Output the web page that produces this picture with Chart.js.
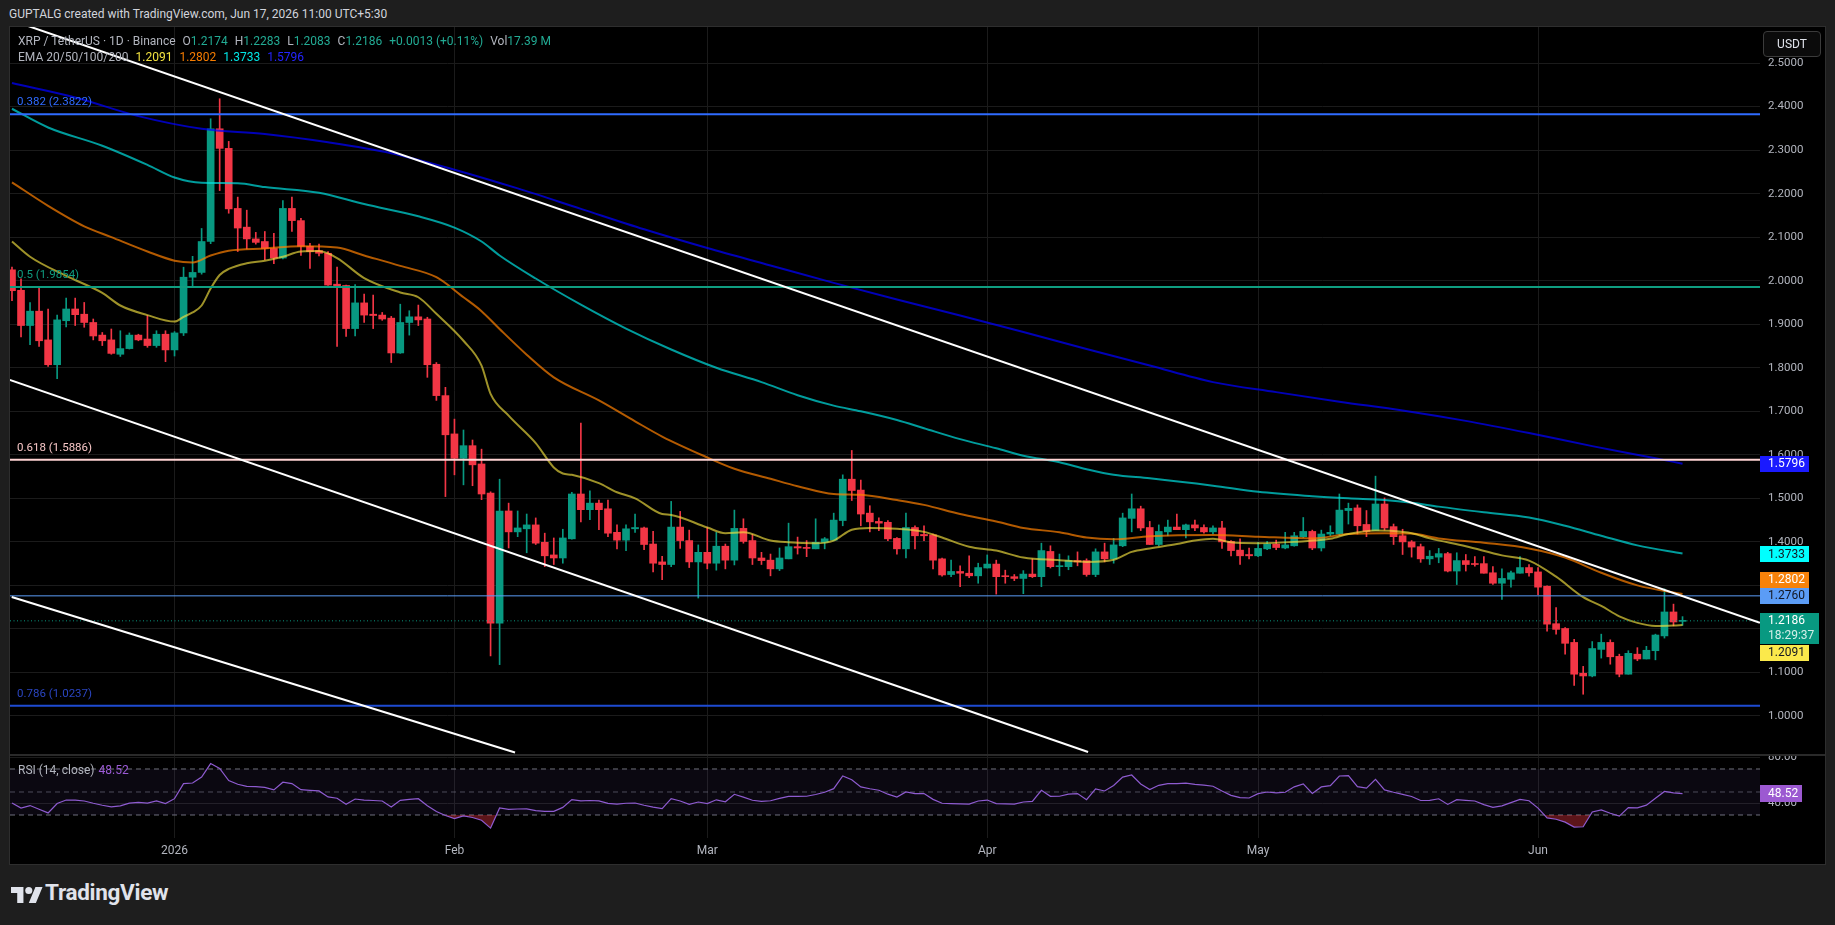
<!DOCTYPE html>
<html>
<head>
<meta charset="utf-8">
<title>XRP / TetherUS 1D</title>
<script src="https://cdn.jsdelivr.net/npm/chart.js@4.4.1/dist/chart.umd.min.js"></script>
<style>
  html, body { margin:0; padding:0; width:1835px; height:925px; overflow:hidden; background:#1e1e1e; font-family: Roboto, "Liberation Sans", sans-serif; }
  .abs { position:absolute; }
  #header { left:9px; top:7px; font-size:12px; color:#d1d4dc; white-space:nowrap; }
  #frame { left:10px; top:27px; width:1815px; height:837px; background:#000; }
  #frameBorder { left:9px; top:26px; width:1815px; height:837px; border:1px solid #2e2e2e; }
  #mainCanvas { left:10px; top:27px; }
  #rsiCanvas { left:10px; top:754px; }
  #sep { left:10px; top:754px; width:1815px; height:2px; background:#2a2a2a; }
  .legend { font-size:12px; color:#b2b5be; white-space:nowrap; }
  .legend span { margin-left:7px; }
  .legend span.v { margin-left:0; }
  #usdt { left:1763px; top:31px; width:56px; height:24px; border:1px solid #3b3b3b; border-radius:4px; background:#0b0b0b; color:#e0e3eb; font-size:12px; line-height:24px; text-align:center; }
  #logo { left:11px; top:883px; }
  #brand { left:45px; top:879px; font-size:22.5px; font-weight:bold; color:#e0e3eb; letter-spacing:-0.3px; }
</style>
</head>
<body>
<div id="header" class="abs">GUPTALG created with TradingView.com, Jun 17, 2026 11:00 UTC+5:30</div>
<div id="frame" class="abs"></div>
<canvas id="mainCanvas" class="abs" width="1815" height="727" style="width:1815px;height:727px"></canvas>
<canvas id="rsiCanvas" class="abs" width="1815" height="110" style="width:1815px;height:110px"></canvas>
<div id="sep" class="abs"></div>
<div id="frameBorder" class="abs"></div>

<div class="abs legend" style="left:18px;top:34px">XRP / TetherUS · 1D · Binance<span>O<span class="v" style="color:#22ab94">1.2174</span></span><span>H<span class="v" style="color:#22ab94">1.2283</span></span><span>L<span class="v" style="color:#22ab94">1.2083</span></span><span>C<span class="v" style="color:#22ab94">1.2186</span></span><span style="color:#22ab94">+0.0013 (+0.11%)</span><span>Vol<span class="v" style="color:#22ab94">17.39 M</span></span></div>
<div class="abs legend" style="left:18px;top:50px">EMA 20/50/100/200<span style="color:#f2e13f">1.2091</span><span style="color:#f57c00">1.2802</span><span style="color:#00e6e6">1.3733</span><span style="color:#2424ff">1.5796</span></div>
<div class="abs legend" style="left:18px;top:763px">RSI (14, close)<span style="color:#9c5bd6;margin-left:4px">48.52</span></div>
<div id="usdt" class="abs">USDT</div>

<svg id="logo" class="abs" width="32" height="22" viewBox="0 0 36 24">
  <path fill="#e0e3eb" d="M14 22H7V11H0V4h14v18zM28 22h-8l7.5-18h8L28 22z"/>
  <circle fill="#e0e3eb" cx="20" cy="8" r="4"/>
</svg>
<div id="brand" class="abs">TradingView</div>

<script>
// day index: 0 = Jan 1 2026, first candle Dec 14 2025
const firstDay = -18;

const open = [
  2.025,1.978,1.897,1.930,1.864,1.807,1.908,1.935,1.923,1.904,1.875,1.864,1.831,1.844,1.875,1.866,1.851,1.877,
  1.841,1.880,2.008,2.019,2.090,2.349,2.304,2.166,2.123,2.096,
  2.090,2.074,2.052,2.166,2.138,2.079,2.069,2.063,1.992,1.989,
  1.890,1.949,1.923,1.921,1.914,1.834,1.904,1.917,1.912,1.808,1.736,
  1.648,1.592,1.621,1.579,1.512,1.213,1.471,1.423,1.430,1.439,
  1.399,1.370,1.363,1.407,1.510,1.474,1.489,1.476,1.422,1.404,
  1.430,1.432,1.395,1.354,1.348,1.434,1.403,1.354,
  1.376,1.351,1.390,1.358,1.431,1.403,1.363,1.358,1.338,1.361,
  1.389,1.387,1.384,1.399,1.404,1.449,1.544,1.519,1.466,1.447,
  1.445,1.408,1.384,1.433,1.417,1.416,1.361,1.325,1.332,1.328,1.322,
  1.340,1.349,1.322,1.320,1.316,1.326,1.320,1.378,1.343,1.343,
  1.357,1.357,1.325,1.377,1.361,1.391,1.454,1.476,1.433,1.394,
  1.423,1.434,1.428,1.439,1.433,1.423,1.432,1.401,1.381,1.371,
  1.368,1.384,1.395,1.386,1.391,1.412,1.424,1.386,1.418,1.418,
  1.472,1.478,1.440,1.426,1.487,1.435,1.414,1.400,1.389,1.361,
  1.365,1.373,1.333,1.357,1.350,1.350,1.329,1.305,1.314,1.328,1.341,
  1.331,1.298,1.212,1.201,1.169,1.098,1.092,1.153,1.169,1.137,
  1.096,1.142,1.131,1.150,1.184,1.239,1.2174
];
const high = [
  2.031,2.004,1.950,1.986,1.935,1.921,1.960,1.960,1.950,1.912,1.881,1.889,1.885,1.880,1.877,1.920,1.885,1.885,
  1.883,2.031,2.056,2.120,2.372,2.418,2.320,2.192,2.162,2.111,
  2.113,2.109,2.184,2.192,2.143,2.086,2.084,2.067,2.031,1.990,
  1.991,1.969,1.967,1.927,1.918,1.946,1.931,1.944,1.916,1.812,1.755,
  1.682,1.657,1.634,1.613,1.515,1.544,1.489,1.471,1.464,1.455,
  1.420,1.409,1.429,1.514,1.673,1.517,1.496,1.496,1.439,1.439,
  1.464,1.434,1.424,1.367,1.493,1.470,1.427,1.393,
  1.433,1.422,1.395,1.473,1.453,1.417,1.376,1.372,1.386,1.443,
  1.411,1.403,1.453,1.410,1.466,1.554,1.610,1.542,1.483,1.455,
  1.449,1.410,1.466,1.437,1.437,1.418,1.363,1.358,1.345,1.368,1.351,
  1.370,1.358,1.335,1.325,1.334,1.361,1.397,1.391,1.372,1.368,
  1.377,1.361,1.384,1.397,1.408,1.466,1.510,1.482,1.447,1.439,
  1.450,1.464,1.441,1.450,1.439,1.437,1.447,1.403,1.407,1.386,
  1.399,1.401,1.404,1.422,1.422,1.456,1.427,1.427,1.437,1.510,
  1.489,1.485,1.472,1.551,1.501,1.441,1.429,1.403,1.395,1.380,
  1.385,1.376,1.375,1.371,1.366,1.366,1.343,1.338,1.333,1.366,1.348,
  1.341,1.299,1.249,1.203,1.176,1.114,1.171,1.188,1.175,1.142,
  1.150,1.157,1.160,1.188,1.292,1.257,1.2283
];
const low = [
  1.954,1.871,1.853,1.849,1.803,1.775,1.894,1.897,1.893,1.864,1.851,1.831,1.826,1.843,1.862,1.847,1.847,1.814,
  1.827,1.874,1.988,2.015,2.085,2.207,2.155,2.067,2.073,2.084,
  2.048,2.039,2.050,2.113,2.058,2.028,2.057,1.989,1.849,1.872,
  1.873,1.904,1.890,1.909,1.812,1.833,1.875,1.897,1.778,1.725,1.504,
  1.554,1.531,1.529,1.497,1.138,1.118,1.386,1.412,1.375,1.394,
  1.343,1.348,1.351,1.406,1.446,1.451,1.428,1.412,1.384,1.380,
  1.422,1.382,1.331,1.313,1.343,1.385,1.341,1.271,
  1.338,1.335,1.338,1.347,1.397,1.348,1.348,1.322,1.334,1.361,
  1.372,1.366,1.384,1.384,1.403,1.437,1.495,1.437,1.423,1.426,
  1.403,1.372,1.363,1.384,1.403,1.338,1.321,1.320,1.297,1.318,1.305,
  1.340,1.280,1.305,1.311,1.281,1.318,1.297,1.340,1.322,1.336,
  1.345,1.321,1.320,1.354,1.351,1.389,1.423,1.426,1.394,1.391,
  1.414,1.428,1.409,1.426,1.420,1.418,1.385,1.368,1.348,1.361,
  1.366,1.382,1.382,1.384,1.390,1.410,1.382,1.379,1.414,1.414,
  1.441,1.418,1.412,1.426,1.427,1.394,1.371,1.365,1.353,1.348,
  1.352,1.331,1.302,1.333,1.344,1.328,1.302,1.268,1.296,1.328,1.321,
  1.279,1.195,1.188,1.142,1.070,1.050,1.090,1.133,1.119,1.090,
  1.096,1.127,1.131,1.129,1.179,1.207,1.2083
];
const close = [
  1.977,1.897,1.930,1.862,1.807,1.910,1.935,1.922,1.904,1.873,1.862,1.833,1.844,1.875,1.864,1.851,1.877,1.841,
  1.880,2.008,2.019,2.090,2.349,2.304,2.165,2.121,2.096,2.088,
  2.074,2.052,2.166,2.138,2.079,2.067,2.063,1.990,1.987,1.890,
  1.949,1.921,1.920,1.912,1.834,1.904,1.917,1.910,1.807,1.736,1.646,
  1.592,1.621,1.577,1.510,1.213,1.471,1.423,1.432,1.439,1.397,
  1.368,1.363,1.409,1.510,1.474,1.489,1.474,1.420,1.404,1.430,
  1.433,1.394,1.351,1.348,1.434,1.403,1.354,1.376,
  1.351,1.390,1.358,1.431,1.401,1.363,1.357,1.338,1.363,1.389,
  1.386,1.385,1.399,1.407,1.450,1.544,1.518,1.464,1.446,1.443,
  1.407,1.384,1.433,1.414,1.414,1.358,1.324,1.332,1.328,1.322,1.341,
  1.349,1.320,1.320,1.316,1.326,1.320,1.380,1.343,1.345,1.357,
  1.354,1.325,1.377,1.361,1.393,1.455,1.476,1.432,1.394,1.424,
  1.434,1.428,1.439,1.432,1.423,1.432,1.400,1.380,1.368,1.368,
  1.385,1.395,1.387,1.393,1.414,1.424,1.386,1.418,1.422,1.473,
  1.477,1.437,1.424,1.487,1.432,1.412,1.400,1.388,1.361,1.367,
  1.373,1.333,1.357,1.348,1.348,1.328,1.305,1.316,1.329,1.341,1.329,
  1.296,1.211,1.199,1.167,1.096,1.092,1.155,1.169,1.136,1.096,
  1.144,1.131,1.151,1.186,1.239,1.216,1.2186
];
const rsi = [
  40.4,36,38.2,35,31.8,40,43,43,42.2,40.2,38.5,37.1,38,40.3,41,40.4,42.3,39.9,
  44.2,57.3,57.8,63,74.7,70.5,60,56.7,54.9,54.6,
  54,51.8,58.5,57.3,52,51.4,50.9,45.7,44.6,39.3,
  43.9,43,42.6,42.2,37,42.8,43.6,44.2,38,33,29.6,
  26.9,29.2,27.8,25.4,18.6,36.1,34.9,35.2,35.4,33.8,
  33.2,33.2,36.6,43.4,42.3,42.6,42.3,40.1,39.5,40.2,
  40.4,38.5,36.8,35.6,44.2,42.2,39.3,41.3,
  39.9,43.2,41.5,48,45.5,42.8,41.9,42.4,44.5,46.2,
  46.2,46.3,47.8,49.8,52.9,63.9,60.7,54.4,52.8,51.5,
  48.1,45.6,50,48.6,48.6,43.6,40.2,39.9,39.6,39.4,42.2,
  43,39.9,39.6,39.4,41.3,41.8,51.5,46.2,46.3,48.2,
  48.6,43.3,52.7,50.9,55.6,63,64.8,57,52.1,55.8,
  57.3,57.3,57.7,56.7,55.9,55,50.9,47.1,45.1,44.8,
  48.6,50,49.3,49.8,54.5,57.1,48.8,54.4,55.5,63.9,
  64.3,54.7,53.4,61,51.8,49.8,48,46.1,42.6,42.7,
  44.1,39.2,43.3,42.8,42.2,39,36.6,38,40.8,43.6,42.4,
  36,27.5,26.3,23.8,19.5,19.8,32.6,34.5,31.5,29,
  36.4,36.2,38.6,44.5,50.5,49.3,48.52
];

// EMA readings (day index, value)
const ema20Days = [-18,-16,-12,-8,-6,-3,0,1,2,3,4,5,6,8,10,12,14,16,18,21,25,27,29,32,34,35,37,40,42,43,44,47,49,51,54,55,59,61,63,66,68,71,73,75,77,80,83,85,88,91,94,98,101,104,106,108,111,113,115,117,120,124,128,130,133,135,137,139,143,147,150,153,156,158,160,162,164,166,167];
const ema20 = [2.090,2.055,2.011,1.972,1.943,1.921,1.906,1.917,1.927,1.943,1.982,2.013,2.027,2.040,2.046,2.055,2.067,2.068,2.052,2.006,1.973,1.962,1.924,1.862,1.805,1.740,1.690,1.627,1.571,1.557,1.554,1.535,1.514,1.500,1.464,1.462,1.433,1.420,1.422,1.403,1.399,1.397,1.403,1.428,1.432,1.430,1.423,1.410,1.389,1.380,1.364,1.358,1.354,1.359,1.377,1.385,1.395,1.403,1.407,1.399,1.397,1.400,1.407,1.418,1.426,1.425,1.420,1.408,1.390,1.369,1.357,1.320,1.273,1.253,1.229,1.214,1.207,1.208,1.2091];
const ema50Days = [-18,-14,-10,-7,-3,0,2,4,6,10,14,18,21,25,29,32,34,36,39,42,47,51,54,59,62,66,69,73,76,80,83,87,91,94,98,101,104,108,115,120,126,130,134,137,140,145,150,154,158,162,167];
const ema50 = [2.226,2.172,2.125,2.100,2.067,2.046,2.042,2.058,2.069,2.074,2.079,2.076,2.058,2.034,2.008,1.962,1.930,1.889,1.830,1.778,1.725,1.677,1.642,1.594,1.568,1.545,1.528,1.510,1.508,1.496,1.485,1.464,1.447,1.432,1.422,1.410,1.406,1.413,1.416,1.412,1.408,1.418,1.420,1.419,1.408,1.398,1.385,1.364,1.329,1.300,1.2802];
const ema100Days = [-18,-14,-8,-3,0,3,7,10,16,21,27,31,34,36,40,45,50,55,60,65,69,73,76,80,83,87,91,94,98,101,104,108,115,120,126,130,134,137,140,145,150,154,158,162,167];
const ema100 = [2.395,2.352,2.310,2.266,2.237,2.225,2.224,2.215,2.202,2.176,2.148,2.122,2.090,2.058,2.005,1.945,1.890,1.842,1.800,1.767,1.737,1.713,1.700,1.680,1.661,1.636,1.615,1.598,1.583,1.567,1.554,1.546,1.529,1.515,1.505,1.500,1.496,1.490,1.481,1.468,1.456,1.437,1.414,1.392,1.3733];
const ema200Days = [-18,-11,-4,3,10,17,24,31,38,45,52,59,66,73,80,87,94,101,108,115,122,129,136,143,150,157,164,167];
const ema200 = [2.454,2.421,2.378,2.349,2.337,2.318,2.293,2.255,2.212,2.165,2.118,2.075,2.035,1.995,1.957,1.920,1.882,1.843,1.805,1.767,1.744,1.722,1.702,1.678,1.650,1.620,1.592,1.5796];

// drawings
const fibRatios = ['0.382', '0.5', '0.618', '0.786'];
const fibLevels = [2.3822, 1.9854, 1.5886, 1.0237];
const keyLevel = 1.2760;
const trend1Days = [-18.22, 175.57], trend1Prices = [2.5994, 1.2143];
const trend2Days = [-18.24, 101.17], trend2Prices = [1.7719, 0.9173];
const trend3Days = [-18.03, 37.71], trend3Prices = [1.2734, 0.9161];

// axes
const priceTicks = [1.0,1.1,1.2,1.3,1.4,1.5,1.6,1.7,1.8,1.9,2.0,2.1,2.2,2.3,2.4,2.5];
const rsiTicks = [40, 80];
const rsiBands = [70, 50, 30];
const monthDays = [0, 31, 59, 90, 120, 151];
const monthLabels = ['2026', 'Feb', 'Mar', 'Apr', 'May', 'Jun'];

// right-axis tags
const tagValues = [1.5796, 1.3733, 1.2802, 1.2760, 1.2091];
const lastPrice = 1.2186;
const countdown = '18:29:37';

// ---- view / style ----
const xMin = -18.22, xMax = 175.58;
const yMin = 0.9127, yMax = 2.5828;
const rsiMin = 10, rsiMax = 83.04;
const UP = '#089981', DOWN = '#f23645';
const GRID = '#1b1b1b';
const AXIS_TEXT = '#b2b5be';
const FONT = 'Roboto, "Liberation Sans", sans-serif';
const fibLineColors = ['#2f6bff', '#0f9d80', '#ffd3d3', '#1e4bd2'];
const fibTextColors = ['#2f6bff', '#0f9d80', '#f7c6c6', '#2a45c0'];
const tagBg = ['#1a1aff', '#00ffff', '#f7820a', '#5b9cf6', '#fbe94b'];
const tagFg = ['#ffffff', '#131722', '#ffffff', '#131722', '#131722'];
const tagShift = [0, 1, -14.5, 0, 28];

Chart.defaults.font.family = FONT;

const days = open.map((_, i) => firstDay + i);
const candleColors = open.map((o, i) => close[i] >= o ? UP : DOWN);

function pts(xs, ys) { return xs.map((x, i) => ({ x: x, y: ys[i] })); }
function flatLine(v) { return [{ x: xMin, y: v }, { x: xMax, y: v }]; }

function lineSet(data, color, width, extra) {
  return Object.assign({
    type: 'line', data: data, borderColor: color, borderWidth: width,
    pointRadius: 0, fill: false, tension: 0
  }, extra || {});
}

const mainDatasets = [
  {
    type: 'bar', order: 20, grouped: false, barThickness: 1,
    data: days.map((d, i) => ({ x: d, y: [low[i], high[i]] })),
    backgroundColor: candleColors
  },
  {
    type: 'bar', order: 19, grouped: false, barThickness: 7, minBarLength: 1,
    data: days.map((d, i) => ({ x: d, y: [open[i], close[i]] })),
    backgroundColor: candleColors
  },
  lineSet(pts(ema200Days, ema200), 'rgba(0,0,255,0.72)', 2, { order: 8, cubicInterpolationMode: 'monotone' }),
  lineSet(pts(ema100Days, ema100), 'rgba(0,230,230,0.68)', 2, { order: 7, cubicInterpolationMode: 'monotone' }),
  lineSet(pts(ema50Days, ema50), 'rgba(255,128,0,0.70)', 2, { order: 6, cubicInterpolationMode: 'monotone' }),
  lineSet(pts(ema20Days, ema20), 'rgba(242,225,63,0.65)', 2, { order: 5, cubicInterpolationMode: 'monotone' }),
  lineSet(flatLine(keyLevel), '#5b9cf6', 1, { order: 2 }),
  lineSet(flatLine(lastPrice), UP, 1, { order: 2, borderDash: [1, 2.5] }),
  lineSet(pts(trend1Days, trend1Prices), '#ffffff', 2, { order: 1 }),
  lineSet(pts(trend2Days, trend2Prices), '#ffffff', 2, { order: 1 }),
  lineSet(pts(trend3Days, trend3Prices), '#ffffff', 2, { order: 1 })
];
fibLevels.forEach((lv, i) => {
  mainDatasets.push(lineSet(flatLine(lv), fibLineColors[i], 2, { order: 1 }));
});

function drawTag(ctx, x, yc, w, h, bg, fg, text) {
  ctx.fillStyle = bg;
  ctx.fillRect(x, Math.round(yc - h / 2), w, h);
  ctx.fillStyle = fg;
  ctx.textBaseline = 'middle';
  ctx.textAlign = 'left';
  ctx.fillText(text, x + 8, yc + 0.5);
}

const mainOverlay = {
  id: 'mainOverlay',
  afterDraw(chart) {
    const { ctx, chartArea } = chart;
    const y = chart.scales.y;
    ctx.save();
    ctx.font = '11.5px ' + FONT;
    ctx.textBaseline = 'middle';
    fibLevels.forEach((lv, i) => {
      ctx.fillStyle = fibTextColors[i];
      ctx.fillText(fibRatios[i] + ' (' + lv.toFixed(4) + ')', chartArea.left + 7, y.getPixelForValue(lv) - 12);
    });
    ctx.font = '12px ' + FONT;
    const ax = chartArea.right;
    tagValues.forEach((v, i) => {
      drawTag(ctx, ax, y.getPixelForValue(v) + tagShift[i], 49, 16, tagBg[i], tagFg[i], v.toFixed(4));
    });
    // last price with countdown
    const py = y.getPixelForValue(lastPrice);
    ctx.fillStyle = UP;
    ctx.fillRect(ax, Math.round(py - 8), 59, 31);
    ctx.fillStyle = '#ffffff';
    ctx.fillText(lastPrice.toFixed(4), ax + 8, py + 0.5);
    ctx.fillStyle = '#d4efe8';
    ctx.fillText(countdown, ax + 8, py + 15.5);
    ctx.restore();
  }
};

new Chart(document.getElementById('mainCanvas'), {
  type: 'bar',
  data: { datasets: mainDatasets },
  plugins: [mainOverlay],
  options: {
    responsive: false, animation: false, events: [],
    layout: { padding: 0 },
    plugins: { legend: { display: false }, tooltip: { enabled: false } },
    scales: {
      x: {
        type: 'linear', min: xMin, max: xMax, offset: false,
        afterBuildTicks: s => { s.ticks = monthDays.map(v => ({ value: v })); },
        ticks: { display: false },
        grid: { color: GRID, drawTicks: false, offset: false },
        border: { display: false },
        afterFit: s => { s.height = 0; s.paddingLeft = 0; s.paddingRight = 0; }
      },
      y: {
        position: 'right', min: yMin, max: yMax,
        afterBuildTicks: s => { s.ticks = priceTicks.map(v => ({ value: v })); },
        ticks: { color: AXIS_TEXT, font: { size: 11.5 }, padding: 8, autoSkip: false, callback: v => Number(v).toFixed(4) },
        grid: { color: GRID, drawTicks: false },
        border: { display: false },
        afterFit: s => { s.width = 65; s.paddingTop = 0; s.paddingBottom = 0; }
      }
    }
  }
});

// ---- RSI pane ----
const rsiOverlay = {
  id: 'rsiOverlay',
  afterDraw(chart) {
    const { ctx, chartArea } = chart;
    const y = chart.scales.y;
    const last = rsi[rsi.length - 1];
    ctx.save();
    ctx.font = '12px ' + FONT;
    drawTag(ctx, chartArea.right, y.getPixelForValue(last), 42, 17, '#9c59d1', '#ffffff', last.toFixed(2));
    ctx.restore();
  }
};

new Chart(document.getElementById('rsiCanvas'), {
  type: 'line',
  data: {
    datasets: [
      lineSet(pts(days, rsi), '#8e5bd0', 1.2, {
        fill: { target: { value: rsiBands[2] }, above: 'rgba(0,0,0,0)', below: 'rgba(242,54,69,0.38)' }
      }),
      lineSet(flatLine(rsiBands[0]), '#6f727c', 1, { borderDash: [5, 4], fill: '+2', backgroundColor: 'rgba(126,87,194,0.09)' }),
      lineSet(flatLine(rsiBands[1]), 'rgba(120,123,134,0.6)', 1, { borderDash: [5, 4] }),
      lineSet(flatLine(rsiBands[2]), '#6f727c', 1, { borderDash: [5, 4] })
    ]
  },
  plugins: [rsiOverlay],
  options: {
    responsive: false, animation: false, events: [],
    layout: { padding: 0 },
    plugins: { legend: { display: false }, tooltip: { enabled: false } },
    scales: {
      x: {
        type: 'linear', min: xMin, max: xMax, offset: false,
        afterBuildTicks: s => { s.ticks = monthDays.map(v => ({ value: v })); },
        ticks: {
          color: AXIS_TEXT, font: { size: 12 }, padding: 6, autoSkip: false, maxRotation: 0,
          callback: v => monthLabels[monthDays.indexOf(v)]
        },
        grid: { color: GRID, drawTicks: false },
        border: { display: false },
        afterFit: s => { s.height = 26; }
      },
      y: {
        position: 'right', min: rsiMin, max: rsiMax,
        afterBuildTicks: s => { s.ticks = rsiTicks.map(v => ({ value: v })); },
        ticks: { color: AXIS_TEXT, font: { size: 11.5 }, padding: 8, callback: v => Number(v).toFixed(2) },
        grid: { color: GRID, drawTicks: false },
        border: { display: false },
        afterFit: s => { s.width = 65; s.paddingTop = 0; s.paddingBottom = 0; }
      }
    }
  }
});
</script>
</body>
</html>
